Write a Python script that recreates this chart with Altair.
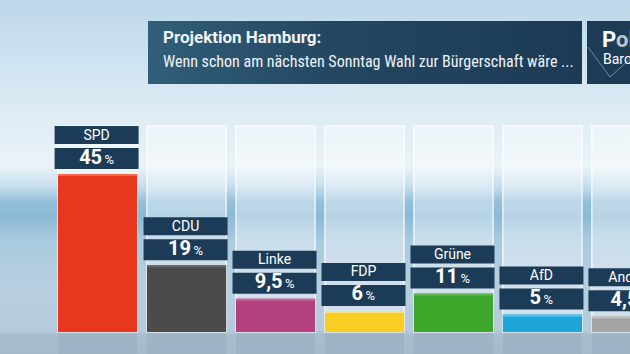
import altair as alt
import pandas as pd

# ---- data ----
parties = ["SPD", "CDU", "Linke", "FDP", "Grüne", "AfD", "Andere"]
values = [45, 19, 9.5, 6, 11, 5, 4.5]
labels = ["45", "19", "9,5", "6", "11", "5", "4,5"]
colors = ["#e8371f", "#4b4b4b", "#b3417f", "#f9cd22", "#3ca72b", "#1fa6d9", "#a4a4a4"]
top_colors = ["#f26a4c", "#6a6a6a", "#c9649c", "#f8e07a", "#62bd52", "#5cc3ea", "#c4c4c4"]

title_text = "Projektion Hamburg:"
subtitle_text = "Wenn schon am nächsten Sonntag Wahl zur Bürgerschaft wäre ..."
logo_top = ["P", "olit"]
logo_bottom = "Barometer"

PANEL_MAX = 58.7
BOX = "#1c3b57"
FONT = "Roboto"

df = pd.DataFrame(dict(party=parties, value=values, label=labels, color=colors, top=top_colors))
df["n"] = df["label"].str.len()
one = pd.DataFrame({"a": [0]})

x_enc = alt.X("party:N", sort=parties, axis=None,
              scale=alt.Scale(domain=parties, range=[58, 671], paddingInner=0.11, paddingOuter=0))
y_scale = alt.Scale(domain=[0, 45], range=[332, 174.1], nice=False, zero=False)
y_enc = alt.Y("value:Q", scale=y_scale, axis=None)

base = alt.Chart(df)

# background gradient
bg = alt.Chart(one).mark_rect(
    fill=alt.Gradient(
        gradient="linear", x1=0, x2=0, y1=0, y2=1,
        stops=[
            alt.GradientStop(offset=0.0, color="#bcd8ea"),
            alt.GradientStop(offset=0.30, color="#dcebf4"),
            alt.GradientStop(offset=0.47, color="#eaf3f8"),
            alt.GradientStop(offset=0.53, color="#c2dcec"),
            alt.GradientStop(offset=0.57, color="#93bfda"),
            alt.GradientStop(offset=0.61, color="#8cbad6"),
            alt.GradientStop(offset=0.68, color="#a9cadf"),
            alt.GradientStop(offset=0.80, color="#b6cfe0"),
            alt.GradientStop(offset=0.935, color="#b5cbdb"),
            alt.GradientStop(offset=0.945, color="#a9bece"),
            alt.GradientStop(offset=1.0, color="#a6bccc"),
        ],
    )
).encode(x=alt.value(0), x2=alt.value(630), y=alt.value(0), y2=alt.value(354))

# floor reflections under columns
floor = base.mark_bar(fill="#8ea7bb", fillOpacity=0.35).encode(
    x=x_enc, y=alt.Y(datum=0, scale=y_scale, axis=None), y2=alt.value(354)
)

# column panels
panels = base.mark_bar(fill="white", fillOpacity=0.38, stroke="white",
                       strokeOpacity=0.75, strokeWidth=1.5).encode(
    x=x_enc, y=alt.Y(datum=PANEL_MAX, scale=y_scale, axis=None), y2=alt.datum(0)
)

bars = base.mark_bar().encode(
    x=x_enc, y=y_enc, y2=alt.datum(0), fill=alt.Fill("color:N", scale=None)
)
bar_tops = base.mark_bar(y2Offset=2).encode(
    x=x_enc, y=y_enc, y2="value:Q", fill=alt.Fill("top:N", scale=None)
)

name_box = base.mark_bar(width=84, xOffset=-1, yOffset=-48, y2Offset=-30, fill=BOX).encode(
    x=x_enc, y=y_enc, y2="value:Q"
)
value_box = base.mark_bar(width=84, xOffset=-1, yOffset=-26, y2Offset=-5, fill=BOX).encode(
    x=x_enc, y=y_enc, y2="value:Q"
)

name_text = base.mark_text(font=FONT, fontSize=14, color="white",
                           baseline="alphabetic", yOffset=-34.5, xOffset=-1).encode(
    x=x_enc, y=y_enc, text="party:N")

value_layers = []
for n, dx in [(1, -0.5), (2, 5.5), (3, 8.0)]:
    sub = base.transform_filter(alt.datum.n == n)
    value_layers.append(sub.mark_text(font=FONT, fontSize=20, fontWeight="bold", color="white",
                                      align="right", baseline="alphabetic",
                                      yOffset=-10.5, xOffset=dx - 1).encode(
        x=x_enc, y=y_enc, text="label:N"))
    value_layers.append(sub.mark_text(font=FONT, fontSize=13, color="white",
                                      align="left", baseline="alphabetic",
                                      yOffset=-10.5, xOffset=dx + 1.5).encode(
        x=x_enc, y=y_enc, text=alt.value("%")))

# title box
title_box = alt.Chart(one).mark_rect(
    fill=alt.Gradient(gradient="linear", x1=0, x2=1, y1=0, y2=0,
                      stops=[alt.GradientStop(offset=0, color="#315e78"),
                             alt.GradientStop(offset=0.45, color="#234661"),
                             alt.GradientStop(offset=1, color="#1d3a55")])
).encode(x=alt.value(148), x2=alt.value(582), y=alt.value(21), y2=alt.value(84))
logo_box = alt.Chart(one).mark_rect(fill="#1e3b56").encode(
    x=alt.value(587), x2=alt.value(640), y=alt.value(21), y2=alt.value(84))

t1 = alt.Chart(one).mark_text(font=FONT, fontSize=17, fontWeight="bold", color="#eef3f7",
                              align="left", baseline="alphabetic").encode(
    x=alt.value(163), y=alt.value(43), text=alt.value(title_text))
t2 = alt.Chart(one).mark_text(font="Liberation Sans Narrow, Roboto Condensed, Roboto", fontSize=16,
                              color="#eef3f7", align="left", baseline="alphabetic").encode(
    x=alt.value(163), y=alt.value(67), text=alt.value(subtitle_text))

v1 = alt.Chart(one).mark_rule(color="#6c8aa2", strokeWidth=1).encode(
    x=alt.value(588), y=alt.value(47), x2=alt.value(610), y2=alt.value(77))
v2 = alt.Chart(one).mark_rule(color="#6c8aa2", strokeWidth=1).encode(
    x=alt.value(610), y=alt.value(77), x2=alt.value(640), y2=alt.value(50))
p1 = alt.Chart(one).mark_text(font=FONT, fontSize=22, fontWeight="bold", color="white",
                              align="left", baseline="alphabetic").encode(
    x=alt.value(602), y=alt.value(47), text=alt.value(logo_top[0]))
p2 = alt.Chart(one).mark_text(font=FONT, fontSize=22, fontWeight="bold", color="#b9c6d2",
                              align="left", baseline="alphabetic").encode(
    x=alt.value(616), y=alt.value(47), text=alt.value(logo_top[1]))
p3 = alt.Chart(one).mark_text(font=FONT, fontSize=14, color="white",
                              align="left", baseline="alphabetic").encode(
    x=alt.value(603), y=alt.value(64), text=alt.value(logo_bottom))

chart = alt.layer(
    bg, floor, panels, bars, bar_tops, name_box, value_box, name_text, *value_layers,
    title_box, logo_box, v1, v2, t1, t2, p1, p2, p3
).properties(width=630, height=354, autosize="none", padding=0).configure_view(stroke=None)

chart.save("out.html", embed_options={"renderer": "svg", "actions": False})
